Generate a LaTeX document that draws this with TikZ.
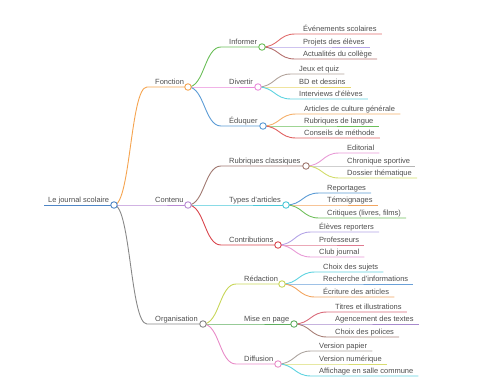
\documentclass[tikz,border=0pt]{standalone}
\usepackage{fontspec}
\setmainfont{Liberation Sans}
\usetikzlibrary{calc}
\pgfdeclarelayer{edgelayer}
\pgfsetlayers{edgelayer,main}
\definecolor{txt}{HTML}{4D4D4D}
\definecolor{cRoot}{HTML}{4F86C6}
\definecolor{cOrange}{HTML}{F5A34E}
\definecolor{cPurple}{HTML}{B98AD4}
\definecolor{cGray}{HTML}{888888}
\definecolor{cGreen}{HTML}{6CBF5A}
\definecolor{cPink}{HTML}{E98BDA}
\definecolor{cBlue}{HTML}{5B9BD5}
\definecolor{cRed}{HTML}{E06C6C}
\definecolor{cLav}{HTML}{B3A3E6}
\definecolor{cMauve}{HTML}{B5706E}
\definecolor{cTaupe}{HTML}{B2A39B}
\definecolor{cYellow}{HTML}{E8D66B}
\definecolor{cCyan}{HTML}{5ED3E0}
\definecolor{cOrange2}{HTML}{F5B06A}
\definecolor{cRed2}{HTML}{E06060}
\definecolor{cBrown}{HTML}{A07870}
\definecolor{cCyan2}{HTML}{4CC8D8}
\definecolor{cRed3}{HTML}{D9474E}
\definecolor{cPink2}{HTML}{E89AD6}
\definecolor{cLGray}{HTML}{B5B5B5}
\definecolor{cYG}{HTML}{D2DC6A}
\definecolor{cGreen2}{HTML}{72C05E}
\definecolor{cPinkRed}{HTML}{E07A90}
\definecolor{cYG2}{HTML}{C8D65A}
\definecolor{cGreen3}{HTML}{5FAE5F}
\definecolor{cPink3}{HTML}{E88CC8}
\definecolor{cBlue2}{HTML}{6AA0D8}
\definecolor{cOrange3}{HTML}{F2A560}
\definecolor{cRosy}{HTML}{D96A7A}
\definecolor{cPurple2}{HTML}{A78ACD}
\definecolor{cBrown2}{HTML}{A88078}
\definecolor{cTaupe2}{HTML}{ADA5A0}
\definecolor{cYG3}{HTML}{D8DC70}
\tikzset{
  lbl/.style={font=\fontsize{7.5}{9}\selectfont, text=txt, inner sep=0pt, anchor=base west},
  edge/.style={line width=0.9pt},
  dot/.style={circle, fill=white, line width=0.9pt, minimum size=6.5pt, inner sep=0pt}
}
% #1 parent, #2 name, #3 xs, #4 y, #5 colour, #6 text
\newcommand\mmleaf[6]{%
  \node[lbl] (#2) at (#3+8,#4-2.5) {#6};
  \coordinate (#2s) at (#3,#4);
  \begin{pgfonlayer}{edgelayer}
  \draw[edge,#5] (#1.center) .. controls +(16.5,0) and +(-16.5,0) .. (#2s) -- ($(#2.base east)+(5,2.5)$);
  \end{pgfonlayer}}
% #1 parent, #2 name, #3 xs, #4 y, #5 colour, #6 text, #7 circle x
\newcommand\mminner[7]{%
  \node[lbl] (#2t) at (#3+8,#4-2.5) {#6};
  \node[dot, draw=#5] (#2) at (#7,#4) {};
  \coordinate (#2s) at (#3,#4);
  \begin{pgfonlayer}{edgelayer}
  \draw[edge,#5] (#1.center) .. controls +(16.5,0) and +(-16.5,0) .. (#2s) -- (#2.center);
  \end{pgfonlayer}}
\begin{document}
\begin{tikzpicture}[x=1pt,y=-1pt]
\useasboundingbox (0,0) rectangle (480,384);
% root
\node[lbl] (roott) at (48,202.5) {Le journal scolaire};
\node[dot, draw=cRoot] (root) at (114,205) {};
\coordinate (roots) at (44,205);
\begin{pgfonlayer}{edgelayer}
\draw[edge,cRoot] (roots) -- (root.center);
\end{pgfonlayer}
% level 1
\mminner{root}{fonc}{147}{87}{cOrange}{Fonction}{188}
\mminner{root}{cont}{147}{205}{cPurple}{Contenu}{188}
\mminner{root}{orga}{147}{324}{cGray}{Organisation}{203}
% Fonction
\mminner{fonc}{info}{221}{47}{cGreen}{Informer}{262}
\mminner{fonc}{dive}{221}{87}{cPink}{Divertir}{258}
\mminner{fonc}{educ}{221}{126}{cBlue}{Éduquer}{263}
\mmleaf{info}{i1}{295}{34}{cRed}{Événements scolaires}
\mmleaf{info}{i2}{295}{47}{cLav}{Projets des élèves}
\mmleaf{info}{i3}{295}{59}{cMauve}{Actualités du collège}
\mmleaf{dive}{d1}{291}{74}{cTaupe}{Jeux et quiz}
\mmleaf{dive}{d2}{291}{87}{cYellow}{BD et dessins}
\mmleaf{dive}{d3}{291}{99}{cCyan}{Interviews d'élèves}
\mmleaf{educ}{e1}{296}{114}{cOrange2}{Articles de culture générale}
\mmleaf{educ}{e2}{296}{126}{cGreen}{Rubriques de langue}
\mmleaf{educ}{e3}{296}{138}{cRed2}{Conseils de méthode}
% Contenu
\mminner{cont}{rubr}{221}{166}{cBrown}{Rubriques classiques}{306}
\mminner{cont}{type}{221}{205}{cCyan2}{Types d'articles}{286}
\mminner{cont}{contr}{221}{245}{cRed3}{Contributions}{278}
\mmleaf{rubr}{r1}{339}{153}{cPink2}{Editorial}
\mmleaf{rubr}{r2}{339}{166}{cLGray}{Chronique sportive}
\mmleaf{rubr}{r3}{339}{178}{cYG}{Dossier thématique}
\mmleaf{type}{t1}{319}{193}{cBlue}{Reportages}
\mmleaf{type}{t2}{319}{205}{cOrange3}{Témoignages}
\mmleaf{type}{t3}{319}{218}{cGreen2}{Critiques (livres, films)}
\mmleaf{contr}{c1}{311}{232}{cLav}{Élèves reporters}
\mmleaf{contr}{c2}{311}{245}{cPinkRed}{Professeurs}
\mmleaf{contr}{c3}{311}{257}{cPink2}{Club journal}
% Organisation
\mminner{orga}{reda}{236}{284}{cYG2}{Rédaction}{282}
\mminner{orga}{mise}{236}{324}{cGreen3}{Mise en page}{294}
\mminner{orga}{diff}{236}{364}{cPink3}{Diffusion}{278}
\mmleaf{reda}{a1}{315}{272}{cCyan}{Choix des sujets}
\mmleaf{reda}{a2}{315}{284}{cBlue2}{Recherche d'informations}
\mmleaf{reda}{a3}{315}{297}{cOrange3}{Écriture des articles}
\mmleaf{mise}{m1}{327}{312}{cRosy}{Titres et illustrations}
\mmleaf{mise}{m2}{327}{324}{cPurple2}{Agencement des textes}
\mmleaf{mise}{m3}{327}{337}{cBrown2}{Choix des polices}
\mmleaf{diff}{f1}{311}{351}{cTaupe2}{Version papier}
\mmleaf{diff}{f2}{311}{364}{cYG3}{Version numérique}
\mmleaf{diff}{f3}{311}{376}{cCyan}{Affichage en salle commune}
\end{tikzpicture}
\end{document}
